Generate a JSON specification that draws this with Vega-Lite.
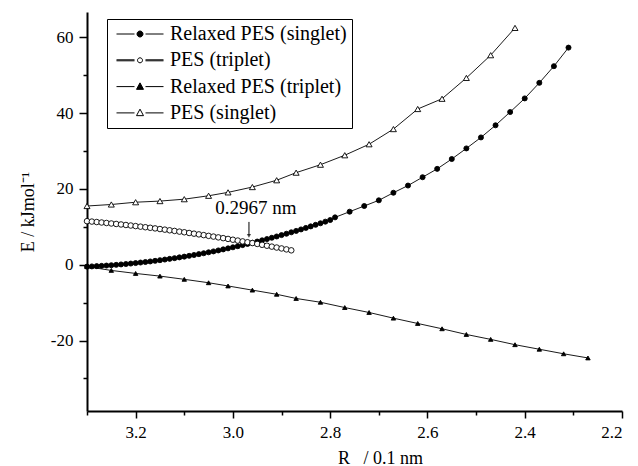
{
  "$schema": "https://vega.github.io/schema/vega-lite/v6.json",
  "width": 535,
  "height": 399,
  "autosize": {"type": "none"},
  "padding": {"left": 87, "top": 12, "right": 16, "bottom": 55},
  "background": "white",
  "config": {
    "view": {"stroke": null},
    "font": "Liberation Serif",
    "axis": {"grid": false, "domainColor": "black", "domainWidth": 2, "tickColor": "black", "tickWidth": 1.5, "labelColor": "black", "titleColor": "black", "labelFont": "Liberation Serif", "titleFont": "Liberation Serif", "titleFontWeight": "normal", "labelFontSize": 17, "titleFontSize": 18}
  },
  "resolve": {"scale": {"fill": "independent", "shape": "independent", "size": "independent", "stroke": "independent"}},
  "datasets": {
    "curves": [
      {"series": "Relaxed PES (singlet)", "R": 3.30, "E": -0.50},
      {"series": "Relaxed PES (singlet)", "R": 3.29, "E": -0.44},
      {"series": "Relaxed PES (singlet)", "R": 3.28, "E": -0.37},
      {"series": "Relaxed PES (singlet)", "R": 3.27, "E": -0.30},
      {"series": "Relaxed PES (singlet)", "R": 3.26, "E": -0.22},
      {"series": "Relaxed PES (singlet)", "R": 3.25, "E": -0.13},
      {"series": "Relaxed PES (singlet)", "R": 3.24, "E": -0.03},
      {"series": "Relaxed PES (singlet)", "R": 3.23, "E": 0.08},
      {"series": "Relaxed PES (singlet)", "R": 3.22, "E": 0.19},
      {"series": "Relaxed PES (singlet)", "R": 3.21, "E": 0.31},
      {"series": "Relaxed PES (singlet)", "R": 3.20, "E": 0.44},
      {"series": "Relaxed PES (singlet)", "R": 3.19, "E": 0.58},
      {"series": "Relaxed PES (singlet)", "R": 3.18, "E": 0.72},
      {"series": "Relaxed PES (singlet)", "R": 3.17, "E": 0.87},
      {"series": "Relaxed PES (singlet)", "R": 3.16, "E": 1.03},
      {"series": "Relaxed PES (singlet)", "R": 3.15, "E": 1.20},
      {"series": "Relaxed PES (singlet)", "R": 3.14, "E": 1.37},
      {"series": "Relaxed PES (singlet)", "R": 3.13, "E": 1.55},
      {"series": "Relaxed PES (singlet)", "R": 3.12, "E": 1.74},
      {"series": "Relaxed PES (singlet)", "R": 3.11, "E": 1.94},
      {"series": "Relaxed PES (singlet)", "R": 3.10, "E": 2.14},
      {"series": "Relaxed PES (singlet)", "R": 3.09, "E": 2.35},
      {"series": "Relaxed PES (singlet)", "R": 3.08, "E": 2.57},
      {"series": "Relaxed PES (singlet)", "R": 3.07, "E": 2.80},
      {"series": "Relaxed PES (singlet)", "R": 3.06, "E": 3.03},
      {"series": "Relaxed PES (singlet)", "R": 3.05, "E": 3.28},
      {"series": "Relaxed PES (singlet)", "R": 3.04, "E": 3.52},
      {"series": "Relaxed PES (singlet)", "R": 3.03, "E": 3.78},
      {"series": "Relaxed PES (singlet)", "R": 3.02, "E": 4.05},
      {"series": "Relaxed PES (singlet)", "R": 3.01, "E": 4.32},
      {"series": "Relaxed PES (singlet)", "R": 3.00, "E": 4.60},
      {"series": "Relaxed PES (singlet)", "R": 2.99, "E": 4.89},
      {"series": "Relaxed PES (singlet)", "R": 2.98, "E": 5.18},
      {"series": "Relaxed PES (singlet)", "R": 2.97, "E": 5.49},
      {"series": "Relaxed PES (singlet)", "R": 2.96, "E": 5.80},
      {"series": "Relaxed PES (singlet)", "R": 2.95, "E": 6.12},
      {"series": "Relaxed PES (singlet)", "R": 2.94, "E": 6.44},
      {"series": "Relaxed PES (singlet)", "R": 2.93, "E": 6.77},
      {"series": "Relaxed PES (singlet)", "R": 2.92, "E": 7.12},
      {"series": "Relaxed PES (singlet)", "R": 2.91, "E": 7.46},
      {"series": "Relaxed PES (singlet)", "R": 2.90, "E": 7.82},
      {"series": "Relaxed PES (singlet)", "R": 2.89, "E": 8.18},
      {"series": "Relaxed PES (singlet)", "R": 2.88, "E": 8.56},
      {"series": "Relaxed PES (singlet)", "R": 2.87, "E": 8.93},
      {"series": "Relaxed PES (singlet)", "R": 2.86, "E": 9.32},
      {"series": "Relaxed PES (singlet)", "R": 2.85, "E": 9.72},
      {"series": "Relaxed PES (singlet)", "R": 2.84, "E": 10.12},
      {"series": "Relaxed PES (singlet)", "R": 2.83, "E": 10.53},
      {"series": "Relaxed PES (singlet)", "R": 2.82, "E": 10.94},
      {"series": "Relaxed PES (singlet)", "R": 2.81, "E": 11.37},
      {"series": "Relaxed PES (singlet)", "R": 2.80, "E": 11.80},
      {"series": "Relaxed PES (singlet)", "R": 2.79, "E": 12.5},
      {"series": "Relaxed PES (singlet)", "R": 2.76, "E": 14.0},
      {"series": "Relaxed PES (singlet)", "R": 2.73, "E": 15.5},
      {"series": "Relaxed PES (singlet)", "R": 2.70, "E": 17.0},
      {"series": "Relaxed PES (singlet)", "R": 2.67, "E": 19.0},
      {"series": "Relaxed PES (singlet)", "R": 2.64, "E": 20.9},
      {"series": "Relaxed PES (singlet)", "R": 2.61, "E": 23.1},
      {"series": "Relaxed PES (singlet)", "R": 2.58, "E": 25.3},
      {"series": "Relaxed PES (singlet)", "R": 2.55, "E": 27.9},
      {"series": "Relaxed PES (singlet)", "R": 2.52, "E": 30.7},
      {"series": "Relaxed PES (singlet)", "R": 2.49, "E": 33.6},
      {"series": "Relaxed PES (singlet)", "R": 2.46, "E": 36.8},
      {"series": "Relaxed PES (singlet)", "R": 2.43, "E": 40.3},
      {"series": "Relaxed PES (singlet)", "R": 2.40, "E": 43.9},
      {"series": "Relaxed PES (singlet)", "R": 2.37, "E": 48.0},
      {"series": "Relaxed PES (singlet)", "R": 2.34, "E": 52.4},
      {"series": "Relaxed PES (singlet)", "R": 2.31, "E": 57.3},
      {"series": "PES (triplet)", "R": 3.30, "E": 11.50},
      {"series": "PES (triplet)", "R": 3.29, "E": 11.39},
      {"series": "PES (triplet)", "R": 3.28, "E": 11.27},
      {"series": "PES (triplet)", "R": 3.27, "E": 11.15},
      {"series": "PES (triplet)", "R": 3.26, "E": 11.02},
      {"series": "PES (triplet)", "R": 3.25, "E": 10.89},
      {"series": "PES (triplet)", "R": 3.24, "E": 10.76},
      {"series": "PES (triplet)", "R": 3.23, "E": 10.63},
      {"series": "PES (triplet)", "R": 3.22, "E": 10.49},
      {"series": "PES (triplet)", "R": 3.21, "E": 10.35},
      {"series": "PES (triplet)", "R": 3.20, "E": 10.20},
      {"series": "PES (triplet)", "R": 3.19, "E": 10.05},
      {"series": "PES (triplet)", "R": 3.18, "E": 9.90},
      {"series": "PES (triplet)", "R": 3.17, "E": 9.75},
      {"series": "PES (triplet)", "R": 3.16, "E": 9.59},
      {"series": "PES (triplet)", "R": 3.15, "E": 9.42},
      {"series": "PES (triplet)", "R": 3.14, "E": 9.26},
      {"series": "PES (triplet)", "R": 3.13, "E": 9.09},
      {"series": "PES (triplet)", "R": 3.12, "E": 8.92},
      {"series": "PES (triplet)", "R": 3.11, "E": 8.74},
      {"series": "PES (triplet)", "R": 3.10, "E": 8.57},
      {"series": "PES (triplet)", "R": 3.09, "E": 8.38},
      {"series": "PES (triplet)", "R": 3.08, "E": 8.20},
      {"series": "PES (triplet)", "R": 3.07, "E": 8.01},
      {"series": "PES (triplet)", "R": 3.06, "E": 7.82},
      {"series": "PES (triplet)", "R": 3.05, "E": 7.62},
      {"series": "PES (triplet)", "R": 3.04, "E": 7.43},
      {"series": "PES (triplet)", "R": 3.03, "E": 7.22},
      {"series": "PES (triplet)", "R": 3.02, "E": 7.02},
      {"series": "PES (triplet)", "R": 3.01, "E": 6.81},
      {"series": "PES (triplet)", "R": 3.00, "E": 6.60},
      {"series": "PES (triplet)", "R": 2.99, "E": 6.38},
      {"series": "PES (triplet)", "R": 2.98, "E": 6.16},
      {"series": "PES (triplet)", "R": 2.97, "E": 5.94},
      {"series": "PES (triplet)", "R": 2.96, "E": 5.72},
      {"series": "PES (triplet)", "R": 2.95, "E": 5.49},
      {"series": "PES (triplet)", "R": 2.94, "E": 5.26},
      {"series": "PES (triplet)", "R": 2.93, "E": 5.02},
      {"series": "PES (triplet)", "R": 2.92, "E": 4.78},
      {"series": "PES (triplet)", "R": 2.91, "E": 4.54},
      {"series": "PES (triplet)", "R": 2.90, "E": 4.30},
      {"series": "PES (triplet)", "R": 2.89, "E": 4.05},
      {"series": "PES (triplet)", "R": 2.88, "E": 3.80},
      {"series": "Relaxed PES (triplet)", "R": 3.30, "E": -0.5},
      {"series": "Relaxed PES (triplet)", "R": 3.25, "E": -1.5},
      {"series": "Relaxed PES (triplet)", "R": 3.20, "E": -2.3},
      {"series": "Relaxed PES (triplet)", "R": 3.15, "E": -3.0},
      {"series": "Relaxed PES (triplet)", "R": 3.10, "E": -3.85},
      {"series": "Relaxed PES (triplet)", "R": 3.05, "E": -4.75},
      {"series": "Relaxed PES (triplet)", "R": 3.01, "E": -5.6},
      {"series": "Relaxed PES (triplet)", "R": 2.96, "E": -6.7},
      {"series": "Relaxed PES (triplet)", "R": 2.91, "E": -7.8},
      {"series": "Relaxed PES (triplet)", "R": 2.87, "E": -8.9},
      {"series": "Relaxed PES (triplet)", "R": 2.82, "E": -9.9},
      {"series": "Relaxed PES (triplet)", "R": 2.77, "E": -11.3},
      {"series": "Relaxed PES (triplet)", "R": 2.72, "E": -12.6},
      {"series": "Relaxed PES (triplet)", "R": 2.67, "E": -14.1},
      {"series": "Relaxed PES (triplet)", "R": 2.62, "E": -15.5},
      {"series": "Relaxed PES (triplet)", "R": 2.57, "E": -16.9},
      {"series": "Relaxed PES (triplet)", "R": 2.52, "E": -18.4},
      {"series": "Relaxed PES (triplet)", "R": 2.47, "E": -19.7},
      {"series": "Relaxed PES (triplet)", "R": 2.42, "E": -21.1},
      {"series": "Relaxed PES (triplet)", "R": 2.37, "E": -22.3},
      {"series": "Relaxed PES (triplet)", "R": 2.32, "E": -23.5},
      {"series": "Relaxed PES (triplet)", "R": 2.27, "E": -24.6},
      {"series": "PES (singlet)", "R": 3.30, "E": 15.5},
      {"series": "PES (singlet)", "R": 3.25, "E": 15.9},
      {"series": "PES (singlet)", "R": 3.20, "E": 16.5},
      {"series": "PES (singlet)", "R": 3.15, "E": 16.8},
      {"series": "PES (singlet)", "R": 3.10, "E": 17.3},
      {"series": "PES (singlet)", "R": 3.05, "E": 18.2},
      {"series": "PES (singlet)", "R": 3.01, "E": 19.1},
      {"series": "PES (singlet)", "R": 2.96, "E": 20.5},
      {"series": "PES (singlet)", "R": 2.91, "E": 22.3},
      {"series": "PES (singlet)", "R": 2.87, "E": 24.3},
      {"series": "PES (singlet)", "R": 2.82, "E": 26.4},
      {"series": "PES (singlet)", "R": 2.77, "E": 28.9},
      {"series": "PES (singlet)", "R": 2.72, "E": 31.8},
      {"series": "PES (singlet)", "R": 2.67, "E": 35.8},
      {"series": "PES (singlet)", "R": 2.62, "E": 41.1},
      {"series": "PES (singlet)", "R": 2.57, "E": 43.8},
      {"series": "PES (singlet)", "R": 2.52, "E": 49.3},
      {"series": "PES (singlet)", "R": 2.47, "E": 55.3},
      {"series": "PES (singlet)", "R": 2.42, "E": 62.5}
    ],
    "legendrows": [
      {"name": "Relaxed PES (singlet)"},
      {"name": "PES (triplet)"},
      {"name": "Relaxed PES (triplet)"},
      {"name": "PES (singlet)"}
    ],
    "note": [{"R": 2.967, "E": 11.3, "label": "0.2967 nm"}]
  },
  "layer": [
    {
      "data": {"name": "curves"},
      "mark": {"type": "line", "color": "black", "strokeWidth": 0.9},
      "encoding": {
        "x": {"field": "R", "type": "quantitative", "scale": {"domain": [2.2, 3.3], "reverse": true, "nice": false, "zero": false},
          "axis": {
            "values": [3.3, 3.2, 3.1, 3.0, 2.9, 2.8, 2.7, 2.6, 2.5, 2.4, 2.3, 2.2],
            "labelExpr": "round(datum.value*10) % 2 == 0 ? format(datum.value, '.1f') : ''",
            "tickSize": {"condition": {"test": "round(datum.value*10) % 2 == 0", "value": 7}, "value": 4},
            "labelPadding": 6,
            "title": "R\u00a0\u00a0\u00a0/ 0.1 nm",
            "titleX": 293, "titleY": 38, "titleBaseline": "top", "titleAnchor": "middle"
          }},
        "y": {"field": "E", "type": "quantitative", "scale": {"domain": [-38.6, 66.7], "nice": false, "zero": false},
          "axis": {
            "values": [-30, -20, -10, 0, 10, 20, 30, 40, 50, 60],
            "labelExpr": "datum.value % 20 == 0 ? '' + datum.value : ''",
            "tickSize": {"condition": {"test": "datum.value % 20 == 0", "value": 8}, "value": 4},
            "labelPadding": 6,
            "title": "E / kJmol\u207b\u00b9",
            "titleX": -50, "titleY": 199.5, "titleAnchor": "middle"
          }},
        "detail": {"field": "series"}
      }
    },
    {
      "data": {"name": "curves"},
      "mark": {"type": "point", "filled": true, "stroke": "black", "strokeWidth": 0.9, "opacity": 1},
      "encoding": {
        "x": {"field": "R", "type": "quantitative"},
        "y": {"field": "E", "type": "quantitative"},
        "fill": {"field": "series", "type": "nominal",
          "scale": {"domain": ["PES (singlet)", "PES (triplet)", "Relaxed PES (singlet)", "Relaxed PES (triplet)"], "range": ["white", "white", "black", "black"]}, "legend": null},
        "shape": {"field": "series", "type": "nominal",
          "scale": {"domain": ["PES (singlet)", "PES (triplet)", "Relaxed PES (singlet)", "Relaxed PES (triplet)"], "range": ["triangle-up", "circle", "circle", "triangle-up"]}, "legend": null},
        "size": {"field": "series", "type": "nominal",
          "scale": {"domain": ["PES (singlet)", "PES (triplet)", "Relaxed PES (singlet)", "Relaxed PES (triplet)"], "range": [36, 20, 30, 36]}, "legend": null}
      }
    },
    {
      "data": {"name": "legendrows"},
      "mark": {"type": "point", "opacity": 0, "filled": true, "strokeWidth": 1},
      "encoding": {
        "fill": {"field": "name", "type": "nominal",
          "scale": {"domain": ["Relaxed PES (singlet)", "PES (triplet)", "Relaxed PES (triplet)", "PES (singlet)"], "range": ["black", "white", "black", "white"]},
          "legend": {
            "title": null, "orient": "none", "legendX": 20, "legendY": 7,
            "strokeColor": "black", "padding": 5, "rowPadding": 6.3,
            "labelFontSize": 20, "labelFont": "Liberation Serif", "labelColor": "black", "labelLimit": 400,
            "labelOffset": 38, "symbolSize": 100, "symbolOpacity": 1, "symbolStrokeWidth": 1
          }},
        "stroke": {"field": "name", "type": "nominal",
          "scale": {"domain": ["Relaxed PES (singlet)", "PES (triplet)", "Relaxed PES (triplet)", "PES (singlet)"], "range": ["black", "black", "black", "black"]},
          "legend": {
            "title": null, "orient": "none", "legendX": 20, "legendY": 7,
            "strokeColor": "black", "padding": 5, "rowPadding": 6.3,
            "labelFontSize": 20, "labelFont": "Liberation Serif", "labelColor": "black", "labelLimit": 400,
            "labelOffset": 38, "symbolSize": 100, "symbolOpacity": 1, "symbolStrokeWidth": 1
          }},
        "shape": {"field": "name", "type": "nominal",
          "scale": {"domain": ["Relaxed PES (singlet)", "PES (triplet)", "Relaxed PES (triplet)", "PES (singlet)"],
            "range": [
              "M-1.1,0H2.5M4.7,0H8.3M3,0A0.6,0.6 0 1,0 4.2,0A0.6,0.6 0 1,0 3,0Z",
              "M-1.1,-0.1H2.5M4.7,-0.1H8.3M-1.1,0.1H2.5M4.7,0.1H8.3M3.1,0A0.5,0.5 0 1,0 4.1,0A0.5,0.5 0 1,0 3.1,0Z",
              "M-1.1,0H2.5M4.7,0H8.3M3.6,-0.75L4.3,0.55L2.9,0.55Z",
              "M-1.1,0H2.5M4.7,0H8.3M3.6,-0.75L4.3,0.55L2.9,0.55Z"
            ]},
          "legend": {
            "title": null, "orient": "none", "legendX": 20, "legendY": 7,
            "strokeColor": "black", "padding": 5, "rowPadding": 6.3,
            "labelFontSize": 20, "labelFont": "Liberation Serif", "labelColor": "black", "labelLimit": 400,
            "labelOffset": 38, "symbolSize": 100, "symbolOpacity": 1, "symbolStrokeWidth": 1
          }}
      }
    },
    {
      "data": {"name": "note"},
      "mark": {"type": "rule", "color": "black", "strokeWidth": 1},
      "encoding": {
        "x": {"field": "R", "type": "quantitative"},
        "y": {"field": "E", "type": "quantitative"},
        "y2": {"datum": 7.8}
      }
    },
    {
      "data": {"name": "note"},
      "mark": {"type": "point", "shape": "triangle-down", "filled": true, "color": "black", "size": 18},
      "encoding": {
        "x": {"field": "R", "type": "quantitative"},
        "y": {"datum": 7.6}
      }
    },
    {
      "data": {"name": "note"},
      "mark": {"type": "text", "font": "Liberation Serif", "fontSize": 19, "color": "black", "align": "center", "baseline": "alphabetic", "dx": 7, "dy": -8},
      "encoding": {
        "x": {"field": "R", "type": "quantitative"},
        "y": {"field": "E", "type": "quantitative"},
        "text": {"field": "label"}
      }
    }
  ]
}
